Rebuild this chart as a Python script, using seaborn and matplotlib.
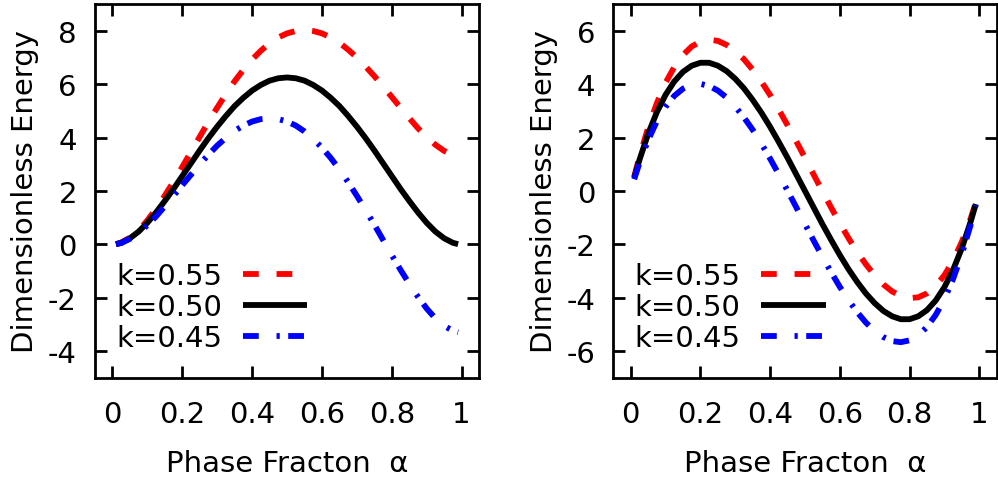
import matplotlib
matplotlib.use("Agg")
import matplotlib.pyplot as plt
import pandas as pd
import seaborn as sns

sns.set_style("ticks")
plt.rcParams["font.family"] = ["DejaVu Sans"]
plt.rcParams["text.color"] = "black"
plt.rcParams["axes.labelcolor"] = "black"
plt.rcParams["xtick.color"] = "black"
plt.rcParams["ytick.color"] = "black"

# phase fraction samples shared by both panels
alpha = [0.01, 0.025, 0.05, 0.075, 0.10, 0.125, 0.15, 0.175, 0.20, 0.225,
         0.25, 0.275, 0.30, 0.325, 0.35, 0.375, 0.40, 0.425, 0.45, 0.475,
         0.50, 0.525, 0.55, 0.575, 0.60, 0.625, 0.65, 0.675, 0.70, 0.725,
         0.75, 0.775, 0.80, 0.825, 0.85, 0.875, 0.90, 0.925, 0.95, 0.975, 0.99]

# ---- left panel ----
energy_k055 = [0.01, 0.07, 0.25, 0.53, 0.90, 1.34, 1.83, 2.35, 2.90, 3.47,
               4.03, 4.59, 5.12, 5.63, 6.11, 6.54, 6.92, 7.25, 7.53, 7.75,
               7.90, 7.99, 8.03, 7.99, 7.90, 7.75, 7.55, 7.29, 7.00, 6.66,
               6.30, 5.92, 5.52, 5.12, 4.73, 4.35, 4.02, 3.73, 3.50, 3.35, 3.31]
energy_k050 = [0.01, 0.06, 0.23, 0.48, 0.81, 1.20, 1.63, 2.08, 2.56, 3.04,
               3.52, 3.98, 4.41, 4.81, 5.18, 5.49, 5.76, 5.97, 6.13, 6.22,
               6.25, 6.22, 6.13, 5.97, 5.76, 5.49, 5.18, 4.81, 4.41, 3.98,
               3.52, 3.04, 2.56, 2.08, 1.63, 1.20, 0.81, 0.48, 0.23, 0.06, 0.01]
energy_k045 = [0.01, 0.05, 0.21, 0.43, 0.72, 1.05, 1.43, 1.82, 2.22, 2.61,
               3.00, 3.36, 3.70, 3.99, 4.25, 4.45, 4.60, 4.69, 4.72, 4.69,
               4.60, 4.45, 4.23, 3.95, 3.62, 3.24, 2.81, 2.33, 1.82, 1.29,
               0.74, 0.17, -0.40, -0.95, -1.47, -1.96, -2.40, -2.77, -3.05, -3.23, -3.29]

# ---- right panel ----
right_k055 = [0.53, 1.28, 2.37, 3.29, 4.05, 4.64, 5.09, 5.41, 5.59, 5.66,
              5.62, 5.47, 5.24, 4.93, 4.54, 4.09, 3.59, 3.04, 2.46, 1.86,
              1.24, 0.61, -0.01, -0.62, -1.21, -1.77, -2.29, -2.75, -3.16, -3.50,
              -3.76, -3.93, -4.01, -3.98, -3.83, -3.56, -3.15, -2.61, -1.90, -1.04, -0.44]
right_k050 = [0.49, 1.16, 2.14, 2.95, 3.60, 4.10, 4.46, 4.69, 4.80, 4.80,
              4.69, 4.49, 4.20, 3.84, 3.41, 2.93, 2.40, 1.83, 1.24, 0.62,
              0.00, -0.62, -1.24, -1.83, -2.40, -2.93, -3.41, -3.84, -4.20, -4.49,
              -4.69, -4.80, -4.80, -4.69, -4.46, -4.10, -3.60, -2.95, -2.14, -1.16, -0.49]
right_k045 = [0.44, 1.04, 1.90, 2.61, 3.15, 3.56, 3.83, 3.98, 4.01, 3.93,
              3.76, 3.50, 3.16, 2.75, 2.29, 1.77, 1.21, 0.62, 0.01, -0.61,
              -1.24, -1.86, -2.46, -3.04, -3.59, -4.09, -4.54, -4.93, -5.24, -5.47,
              -5.62, -5.66, -5.59, -5.41, -5.09, -4.64, -4.05, -3.29, -2.37, -1.28, -0.53]

series_labels = ["k=0.55", "k=0.50", "k=0.45"]
x_ticks = [0, 0.2, 0.4, 0.6, 0.8, 1]
x_tick_labels = ["0", "0.2", "0.4", "0.6", "0.8", "1"]
left_y_ticks = [-4, -2, 0, 2, 4, 6, 8]
right_y_ticks = [-6, -4, -2, 0, 2, 4, 6]

FS = 21
LW = 4.2
styles = [
    dict(color="#ff0000", linestyle=(0, (2.7, 3.05)), dash_capstyle="butt"),
    dict(color="#000000", linestyle="-", solid_capstyle="butt"),
    dict(color="#0000ff", linestyle=(0, (2.7, 3.05, 0.55, 1.45)), dash_capstyle="butt"),
]


def make_frame(xs, ys):
    parts = []
    for lab, y in zip(series_labels, ys):
        parts.append(pd.DataFrame({"alpha": xs, "energy": y, "k": lab}))
    return pd.concat(parts, ignore_index=True)


def draw_panel(ax, df, yticks, ylim):
    for lab, st in zip(series_labels, styles):
        sub = df[df["k"] == lab]
        sns.lineplot(data=sub, x="alpha", y="energy", ax=ax, lw=LW, label=lab,
                     errorbar=None, sort=False, solid_joinstyle="round",
                     dash_joinstyle="round", **st)
    ax.set_xlim(-0.05, 1.05)
    ax.set_ylim(*ylim)
    ax.set_xticks(x_ticks)
    ax.set_xticklabels(x_tick_labels)
    ax.set_yticks(yticks)
    ax.set_yticklabels([str(t) for t in yticks])
    for sp in ax.spines.values():
        sp.set_visible(True)
        sp.set_linewidth(2.0)
        sp.set_color("black")
    ax.tick_params(axis="both", direction="in", length=8.5, width=2.0,
                   top=True, right=True, labelsize=FS, colors="black")
    ax.tick_params(axis="x", pad=16)
    ax.tick_params(axis="y", pad=13)
    ax.set_xlabel("Phase Fracton  α", fontsize=FS)
    ax.set_ylabel("Dimensionless Energy", fontsize=FS)
    ax.xaxis.set_label_coords(0.5, -0.19)
    ax.yaxis.set_label_coords(-0.145, 0.5)
    ax.legend(loc="lower left", bbox_to_anchor=(0.055, 0.07), frameon=False,
              fontsize=FS, markerfirst=False, handlelength=2.2, handletextpad=0.72,
              labelspacing=0.1, borderpad=0, borderaxespad=0)


fig = plt.figure(figsize=(9.98, 4.85), dpi=100)
ax_left = fig.add_axes([0.0952, 0.2186, 0.3848, 0.7711])
ax_right = fig.add_axes([0.6145, 0.2186, 0.3842, 0.7711])

draw_panel(ax_left, make_frame(alpha, [energy_k055, energy_k050, energy_k045]),
           left_y_ticks, (-5, 9))
draw_panel(ax_right, make_frame(alpha, [right_k055, right_k050, right_k045]),
           right_y_ticks, (-7, 7))

fig.savefig("out.png", dpi=100, facecolor="white")
